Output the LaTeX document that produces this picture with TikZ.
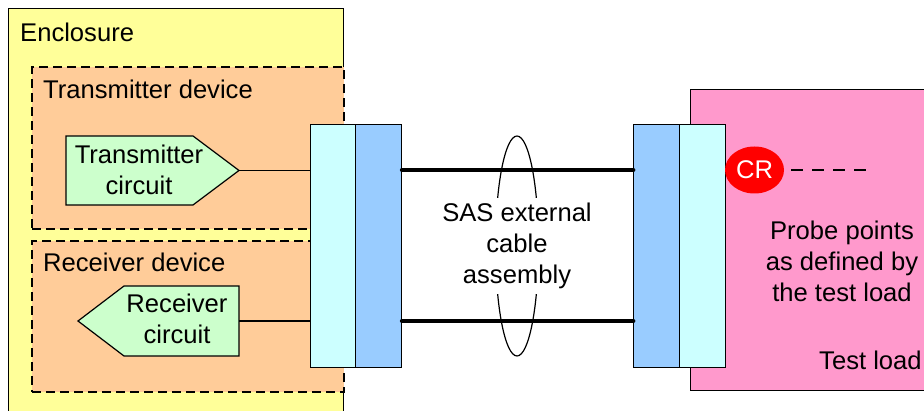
\documentclass[tikz,border=0pt]{standalone}
\usepackage{fontspec}
\setmainfont{Liberation Sans}
\usetikzlibrary{shapes.geometric}
\definecolor{enclc}{HTML}{FFFF99}
\definecolor{devc}{HTML}{FFCC99}
\definecolor{circc}{HTML}{CCFFCC}
\definecolor{conA}{HTML}{CCFFFF}
\definecolor{conB}{HTML}{99CCFF}
\definecolor{tloadc}{HTML}{FF99CC}
\definecolor{crc}{HTML}{FF0000}
\begin{document}
\begin{tikzpicture}[x=1pt,y=-1pt,
  every node/.style={font=\fontsize{25.6}{31}\selectfont},
  box/.style={draw=black, line width=1.2pt, rectangle, inner sep=0pt, anchor=north west},
  devbox/.style={box, line width=2.4pt, dash pattern=on 9pt off 5pt, fill=devc},
  conbox/.style={box, minimum height=243pt},
  lbl/.style={anchor=base west, inner sep=0pt},
  circshape/.style={draw=black, line width=1.2pt, fill=circc, line join=miter},
  wire/.style={draw=black, line width=1.2pt},
  cable/.style={draw=black, line width=4.8pt, line cap=round},
  probedash/.style={draw=black, line width=2pt, dash pattern=on 12pt off 9pt}
]
\useasboundingbox (0,0) rectangle (924,411);
\clip (0,0) rectangle (924,411);

% enclosure and devices
\node[box, fill=enclc, minimum width=335pt, minimum height=440pt] (enc) at (8,8) {};
\node[lbl] (enclbl) at (20,42) {Enclosure};
\node[devbox, minimum width=312pt, minimum height=162pt] (txdev) at (31,66) {};
\node[lbl] (txlbl) at (43,99) {Transmitter device};
\node[devbox, minimum width=312pt, minimum height=151pt] (rxdev) at (31,240) {};
\node[lbl] (rxlbl) at (43,272) {Receiver device};

% test load
\node[box, fill=tloadc, minimum width=280pt, minimum height=301pt] (tload) at (690,89) {};

% circuits
\draw[circshape] (66,136) -- (193,136) -- (239,170.5) -- (193,205) -- (66,205) -- cycle;
\coordinate (txtip) at (239,170.5);
\node[align=center] (txtext) at (139,170) {Transmitter\\circuit};
\draw[circshape] (239,286) -- (124,286) -- (78,321) -- (124,356) -- (239,356) -- cycle;
\coordinate (rxend) at (239,321);
\node[align=center] (rxtext) at (177,319) {Receiver\\circuit};

% connectors
\node[conbox, fill=conA, minimum width=45pt] (lconA) at (310,124) {};
\node[conbox, fill=conB, minimum width=46pt] (lconB) at (355,124) {};
\node[conbox, fill=conB, minimum width=46pt] (rconB) at (633,124) {};
\node[conbox, fill=conA, minimum width=46pt] (rconA) at (679,124) {};

\draw[wire] (txtip) -- (txtip -| lconA.west);
\draw[wire] (rxend) -- (rxend -| lconA.west);

% cables
\coordinate (ytop) at (0,170);
\coordinate (ybot) at (0,321);
\draw[cable] (lconB.east |- ytop) -- (rconB.west |- ytop);
\draw[cable] (lconB.east |- ybot) -- (rconB.west |- ybot);
\node[draw=black, line width=1.2pt, ellipse, minimum width=43pt, minimum height=220pt, inner sep=0pt] (loop) at (517,246) {};
\node[fill=white, align=center, inner sep=5pt] (sas) at (517,246) {SAS external\\cable\\assembly};

% probe point
\node[ellipse, fill=crc, text=white, minimum width=59pt, minimum height=47pt, inner sep=0pt] (cr) at (754.5,170) {CR};
\coordinate (dashend) at (866,170);
\draw[probedash] ([xshift=7pt]cr.east) -- (dashend);
\node[align=center] (probe) at (842,261) {Probe points\\as defined by\\the test load};
\node[lbl] (tllbl) at (819,370) {Test load};
\end{tikzpicture}
\end{document}
